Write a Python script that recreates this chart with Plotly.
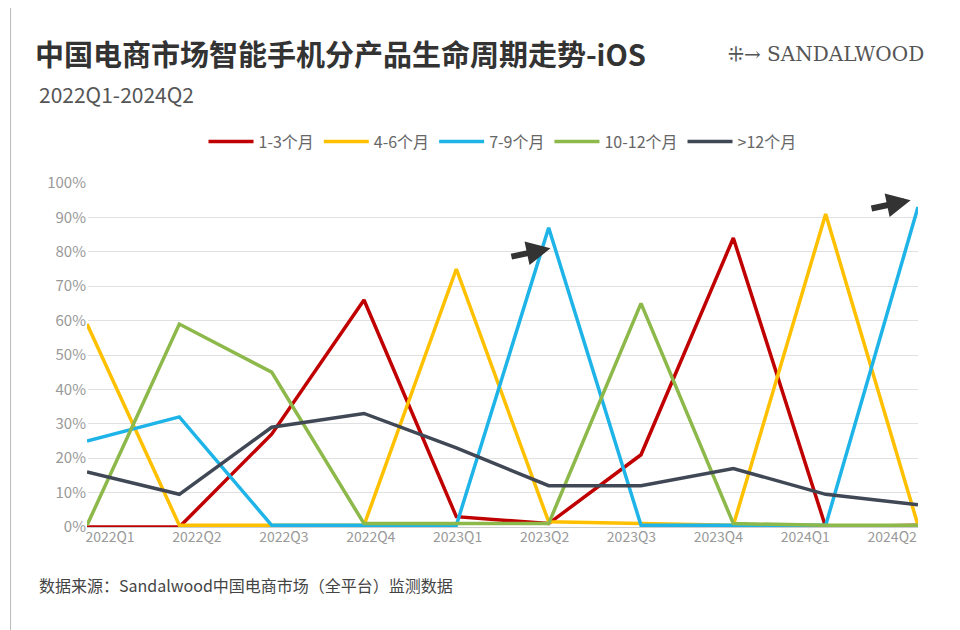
import plotly.graph_objects as go

quarters = ["2022Q1", "2022Q2", "2022Q3", "2022Q4", "2023Q1",
            "2023Q2", "2023Q3", "2023Q4", "2024Q1", "2024Q2"]
m1_3 = [0, 0, 27, 66, 3, 1, 21, 84, 0, 0.5]
m4_6 = [59, 0.5, 0.5, 0.5, 75, 1.5, 1, 0.5, 91, 0.5]
m7_9 = [25, 32, 0.5, 0.5, 0.5, 87, 0.5, 0.5, 0.5, 93]
m10_12 = [0.5, 59, 45, 1, 1, 1, 65, 1, 0.5, 0.5]
m12p = [16, 9.5, 29, 33, 23, 12, 12, 17, 9.5, 6.5]

series = [("1-3个月", m1_3, "#c00000"),
          ("4-6个月", m4_6, "#ffc000"),
          ("7-9个月", m7_9, "#1fb4e8"),
          ("10-12个月", m10_12, "#8db84a"),
          (">12个月", m12p, "#404755")]

font = "Noto Sans CJK SC"
idx = list(range(len(quarters)))
fig = go.Figure()
for name, vals, col in series:
    fig.add_trace(go.Scatter(x=idx, y=vals, name=name,
                             mode="lines", line=dict(color=col, width=3.5)))
# invisible trace carrying the category labels on a second x axis
fig.add_trace(go.Scatter(x=idx, y=[None] * len(idx), xaxis="x2", showlegend=False,
                         hoverinfo="skip"))

fig.update_layout(
    width=960, height=630, plot_bgcolor="white", paper_bgcolor="white",
    margin=dict(l=79, r=50, t=175, b=111),
    font=dict(family=font, color="#888"),
    title=dict(text="<b>中国电商市场智能手机分产品生命周期走势-iOS</b>",
               x=0.028, y=0.94, xanchor="left",
               font=dict(size=29, color="#333", family=font)),
    legend=dict(orientation="h", x=0.5, xanchor="center", y=1.12, yanchor="middle",
                font=dict(size=16, color="#666"), itemwidth=45),
    xaxis=dict(range=[0, 9], showticklabels=False, showgrid=False,
               showline=True, linecolor="#ccc"),
    xaxis2=dict(range=[-0.265, 9.297], tickvals=idx, ticktext=quarters, overlaying="x",
                side="bottom", showgrid=False, showline=False, zeroline=False,
                tickfont=dict(size=14, color="#999")),
    yaxis=dict(range=[0, 100], dtick=10, ticksuffix="%", gridcolor="#e0e0e0",
               zeroline=False, tickfont=dict(size=15, color="#999")),
)
fig.add_annotation(text="2022Q1-2024Q2", xref="paper", yref="paper", x=-0.06, y=1.26,
                   xanchor="left", yanchor="middle", showarrow=False,
                   font=dict(size=21, color="#555"))
fig.add_annotation(text="数据来源：Sandalwood中国电商市场（全平台）监测数据", xref="paper",
                   yref="paper", x=-0.06, y=-0.17, xanchor="left", yanchor="middle",
                   showarrow=False, font=dict(size=16, color="#444"))
fig.add_annotation(text="⁜→ SANDALWOOD", xref="paper", yref="paper", x=1.01, y=1.375,
                   xanchor="right", yanchor="middle", showarrow=False,
                   font=dict(size=20, color="#555", family="DejaVu Serif"))
for ax, ay in [(4.9, 0.8), (8.8, 0.94)]:
    fig.add_annotation(x=ax + 0.12, y=ay * 100 + 1, ax=ax - 0.32, ay=ay * 100 - 1.5,
                       xref="x", yref="y", axref="x", ayref="y", showarrow=True,
                       arrowhead=2, arrowsize=0.8, arrowwidth=6, arrowcolor="#333", text="")
fig.add_shape(type="rect", xref="paper", yref="paper", x0=-0.092, x1=1.057, y0=-0.31,
              y1=1.52, line=dict(color="#bbb", width=1))
fig.write_html("out.html")
